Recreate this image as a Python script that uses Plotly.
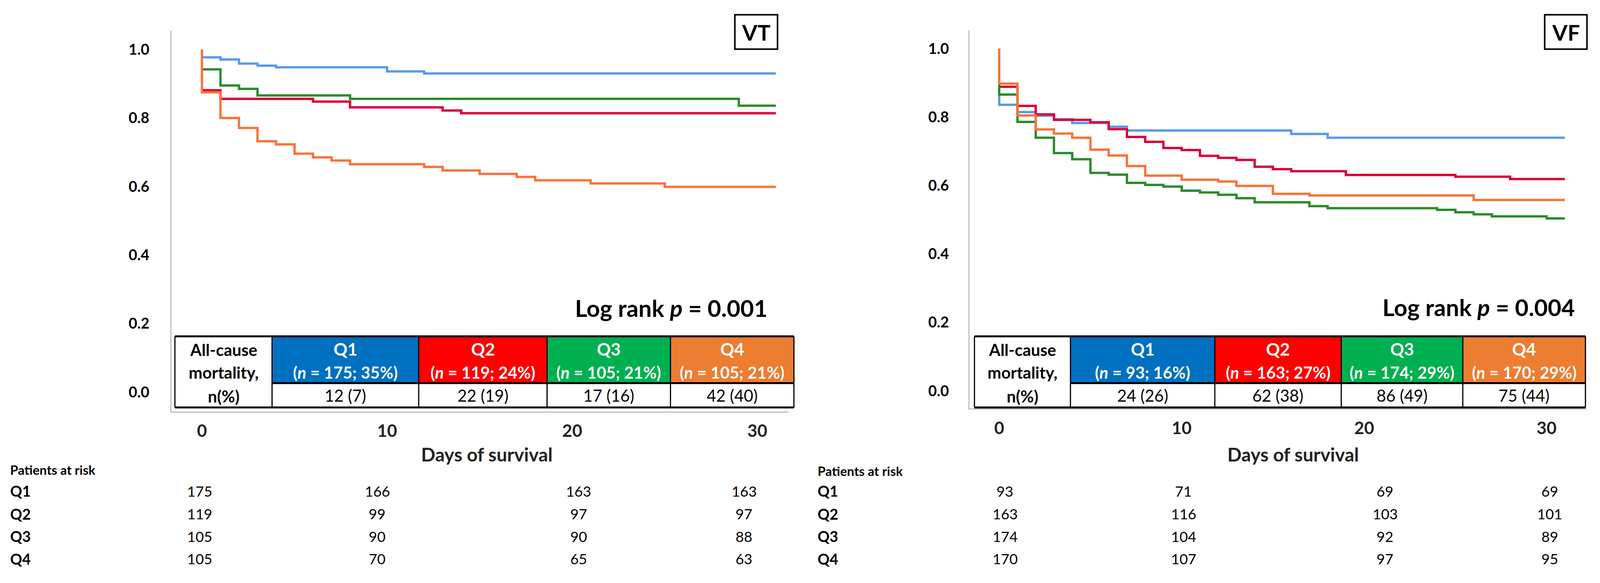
import plotly.graph_objects as go

# Kaplan-Meier steps (day, survival)
vt_q1_days = [0, 0, 1, 2, 3, 4, 10, 12, 31]
vt_q1_surv = [1.0, 0.977, 0.971, 0.959, 0.953, 0.948, 0.936, 0.930, 0.930]
vt_q2_days = [0, 0, 1, 6, 8, 13, 14, 31]
vt_q2_surv = [1.0, 0.881, 0.856, 0.848, 0.831, 0.822, 0.814, 0.814]
vt_q3_days = [0, 0, 1, 2, 3, 8, 29, 31]
vt_q3_surv = [1.0, 0.942, 0.895, 0.885, 0.866, 0.856, 0.836, 0.836]
vt_q4_days = [0, 0, 1, 2, 3, 4, 5, 6, 7, 8, 12, 13, 15, 17, 18, 21, 25, 31]
vt_q4_surv = [1.0, 0.875, 0.800, 0.771, 0.732, 0.723, 0.696, 0.685, 0.676, 0.665,
              0.657, 0.647, 0.637, 0.628, 0.618, 0.609, 0.599, 0.599]

vf_q1_days = [0, 0, 1, 2, 3, 4, 6, 7, 16, 18, 31]
vf_q1_surv = [1.0, 0.836, 0.815, 0.804, 0.794, 0.783, 0.772, 0.761, 0.751, 0.740, 0.740]
vf_q2_days = [0, 0, 1, 2, 3, 5, 6, 7, 8, 9, 10, 11, 12, 13, 14, 15, 16, 19, 25, 28, 31]
vf_q2_surv = [1.0, 0.889, 0.833, 0.808, 0.792, 0.785, 0.765, 0.742, 0.728, 0.710, 0.704,
              0.687, 0.681, 0.675, 0.655, 0.648, 0.642, 0.631, 0.626, 0.619, 0.619]
vf_q3_days = [0, 0, 1, 2, 3, 4, 5, 6, 7, 8, 9, 10, 11, 12, 13, 14, 17, 18, 24, 25, 26, 27, 30, 31]
vf_q3_surv = [1.0, 0.866, 0.786, 0.740, 0.695, 0.677, 0.637, 0.632, 0.608, 0.602, 0.597, 0.585,
              0.580, 0.573, 0.563, 0.551, 0.540, 0.534, 0.529, 0.522, 0.516, 0.510, 0.504, 0.504]
vf_q4_days = [0, 0, 1, 2, 3, 4, 5, 6, 7, 8, 10, 12, 13, 15, 17, 26, 31]
vf_q4_surv = [1.0, 0.898, 0.805, 0.764, 0.752, 0.740, 0.705, 0.688, 0.657, 0.629,
              0.617, 0.612, 0.599, 0.576, 0.571, 0.558, 0.558]

groups = ["Q1", "Q2", "Q3", "Q4"]
vt_n = [175, 119, 105, 105]
vt_pct = [35, 24, 21, 21]
vt_deaths = [12, 22, 17, 42]
vt_death_pct = [7, 19, 16, 40]
vf_n = [93, 163, 174, 170]
vf_pct = [16, 27, 29, 29]
vf_deaths = [24, 62, 86, 75]
vf_death_pct = [26, 38, 49, 44]
vt_p = "0.001"
vf_p = "0.004"

risk_days = [0, 10, 20, 30]
vt_at_risk = [[175, 166, 163, 163], [119, 99, 97, 97], [105, 90, 90, 88], [105, 70, 65, 63]]
vf_at_risk = [[93, 71, 69, 69], [163, 116, 103, 101], [174, 104, 92, 89], [170, 107, 97, 95]]

line_colors = ["#5a9be6", "#d8003a", "#2b8a2b", "#f7743a"]
head_colors = ["#0070c0", "#ff0000", "#00b050", "#ed7d31"]

# positions are measured on a 4184 x 1492 grid and given as paper fractions;
# the figure itself is sized to fill the browser window
W, H = 4184, 1492
FONT = "Lato"


def px(x):
    return x / W


def py(y):
    return 1 - y / H


fig = go.Figure()

vt_series = [(vt_q1_days, vt_q1_surv), (vt_q2_days, vt_q2_surv),
             (vt_q3_days, vt_q3_surv), (vt_q4_days, vt_q4_surv)]
vf_series = [(vf_q1_days, vf_q1_surv), (vf_q2_days, vf_q2_surv),
             (vf_q3_days, vf_q3_surv), (vf_q4_days, vf_q4_surv)]

for (d, s), c, g in zip(vt_series, line_colors, groups):
    fig.add_trace(go.Scatter(x=d, y=s, mode="lines", line=dict(color=c, width=6, shape="hv"),
                             name=g, xaxis="x", yaxis="y", showlegend=False))
for (d, s), c, g in zip(vf_series, line_colors, groups):
    fig.add_trace(go.Scatter(x=d, y=s, mode="lines", line=dict(color=c, width=6, shape="hv"),
                             name=g, xaxis="x2", yaxis="y2", showlegend=False))

axis_common = dict(showline=True, linecolor="#bfbfbf", linewidth=3, showgrid=False,
                   zeroline=False, ticks="")
yticks = [0.0, 0.2, 0.4, 0.6, 0.8, 1.0]

fig.update_layout(
    autosize=True,
    margin=dict(l=0, r=0, t=0, b=0),
    paper_bgcolor="white", plot_bgcolor="white",
    font=dict(family=FONT, color="black"),
    xaxis=dict(domain=[px(442), px(2062)], range=[-1.646, 31.687], anchor="y",
               tickvals=[0, 10, 20, 30], ticklabelstandoff=10,
               tickfont=dict(size=44, weight="bold", color="#222"), **axis_common),
    yaxis=dict(domain=[py(1056), py(71)], range=[-0.0564, 1.0553], anchor="x",
               tickvals=yticks, ticktext=["%.1f" % v for v in yticks], ticklabelstandoff=46,
               tickfont=dict(size=38, weight="bold"), **axis_common),
    xaxis2=dict(domain=[px(2537), px(4156)], range=[-1.628, 32.17], anchor="y2",
                tickvals=[0, 10, 20, 30], ticklabelstandoff=10,
                tickfont=dict(size=44, weight="bold", color="#222"), **axis_common),
    yaxis2=dict(domain=[py(1048), py(71)], range=[-0.0508, 1.0531], anchor="x2",
                tickvals=yticks, ticktext=["%.1f" % v for v in yticks], ticklabelstandoff=42,
                tickfont=dict(size=38, weight="bold"), **axis_common),
)

shapes = []
annots = []


def text(x, y, t, size, bold=False, color="black", xanchor="center"):
    annots.append(dict(x=px(x), y=py(y), xref="paper", yref="paper", text=t, showarrow=False,
                       xanchor=xanchor, yanchor="middle",
                       font=dict(family=FONT, size=size, color=color,
                                 weight="bold" if bold else "normal")))


def mortality_table(cols, n, pct, deaths, dpct):
    top, mid, bot = 862, 983, 1046
    for i in range(4):
        shapes.append(dict(type="rect", xref="paper", yref="paper",
                           x0=px(cols[i + 1]), x1=px(cols[i + 2]), y0=py(mid), y1=py(top),
                           fillcolor=head_colors[i], line=dict(width=0)))
        shapes.append(dict(type="rect", xref="paper", yref="paper",
                           x0=px(cols[i + 1]), x1=px(cols[i + 2]), y0=py(bot), y1=py(mid),
                           fillcolor="white", line=dict(width=0)))
        cx = (cols[i + 1] + cols[i + 2]) / 2
        text(cx, 895, groups[i], 44, bold=True, color="white")
        text(cx, 955, "(<i>n</i> = %d; %d%%)" % (n[i], pct[i]), 42, bold=True, color="white")
        text(cx, 1015, "%d (%d)" % (deaths[i], dpct[i]), 42)
    shapes.append(dict(type="rect", xref="paper", yref="paper",
                       x0=px(cols[0]), x1=px(cols[1]), y0=py(bot), y1=py(top),
                       fillcolor="white", line=dict(width=0)))
    cx0 = (cols[0] + cols[1]) / 2
    text(cx0, 897, "All-cause", 42, bold=True)
    text(cx0, 955, "mortality,", 42, bold=True)
    text(cx0, 1017, "n(%)", 42, bold=True)
    # borders
    for y, w in [(top, 5), (mid, 5), (bot, 5)]:
        x0 = cols[1] if y == mid else cols[0]
        shapes.append(dict(type="line", xref="paper", yref="paper", x0=px(x0), x1=px(cols[-1]),
                           y0=py(y), y1=py(y), line=dict(color="black", width=w)))
    for x in cols:
        shapes.append(dict(type="line", xref="paper", yref="paper", x0=px(x), x1=px(x),
                           y0=py(top), y1=py(bot), line=dict(color="black", width=3)))


mortality_table([451, 706, 1091, 1428, 1752, 2076], vt_n, vt_pct, vt_deaths, vt_death_pct)
mortality_table([2550, 2802, 3181, 3513, 3832, 4154], vf_n, vf_pct, vf_deaths, vf_death_pct)

# log rank
text(2009, 788, "Log rank <i>p</i> = %s" % vt_p, 60, bold=True, xanchor="right")
text(4129, 786, "Log rank <i>p</i> = %s" % vf_p, 60, bold=True, xanchor="right")

# panel labels
for x0, x1, lab in [(1921, 2033, "VT"), (4047, 4158, "VF")]:
    shapes.append(dict(type="rect", xref="paper", yref="paper", x0=px(x0), x1=px(x1),
                       y0=py(119), y1=py(30), line=dict(color="black", width=4)))
    text((x0 + x1) / 2, 75, lab, 56, bold=True)

# axis titles
text(1270, 1167, "Days of survival", 48, bold=True, color="#222")
text(3387, 1167, "Days of survival", 48, bold=True, color="#222")

# patients at risk
row_y = [1262, 1321, 1379, 1437]
for lx, cx, hy, table in [(16, [516, 982, 1511, 1945], 1207, vt_at_risk),
                          (2136, [2630, 3099, 3628, 4060], 1210, vf_at_risk)]:
    text(lx, hy, "Patients at risk", 33, bold=True, xanchor="left")
    for gi, g in enumerate(groups):
        text(lx, row_y[gi], g, 38, bold=True, xanchor="left")
        for di in range(len(risk_days)):
            text(cx[di], row_y[gi], str(table[gi][di]), 37)

fig.update_layout(shapes=shapes, annotations=annots)
fig.write_html("out.html", default_width="calc(100vw - 16px)", default_height="calc(100vh - 16px)")
